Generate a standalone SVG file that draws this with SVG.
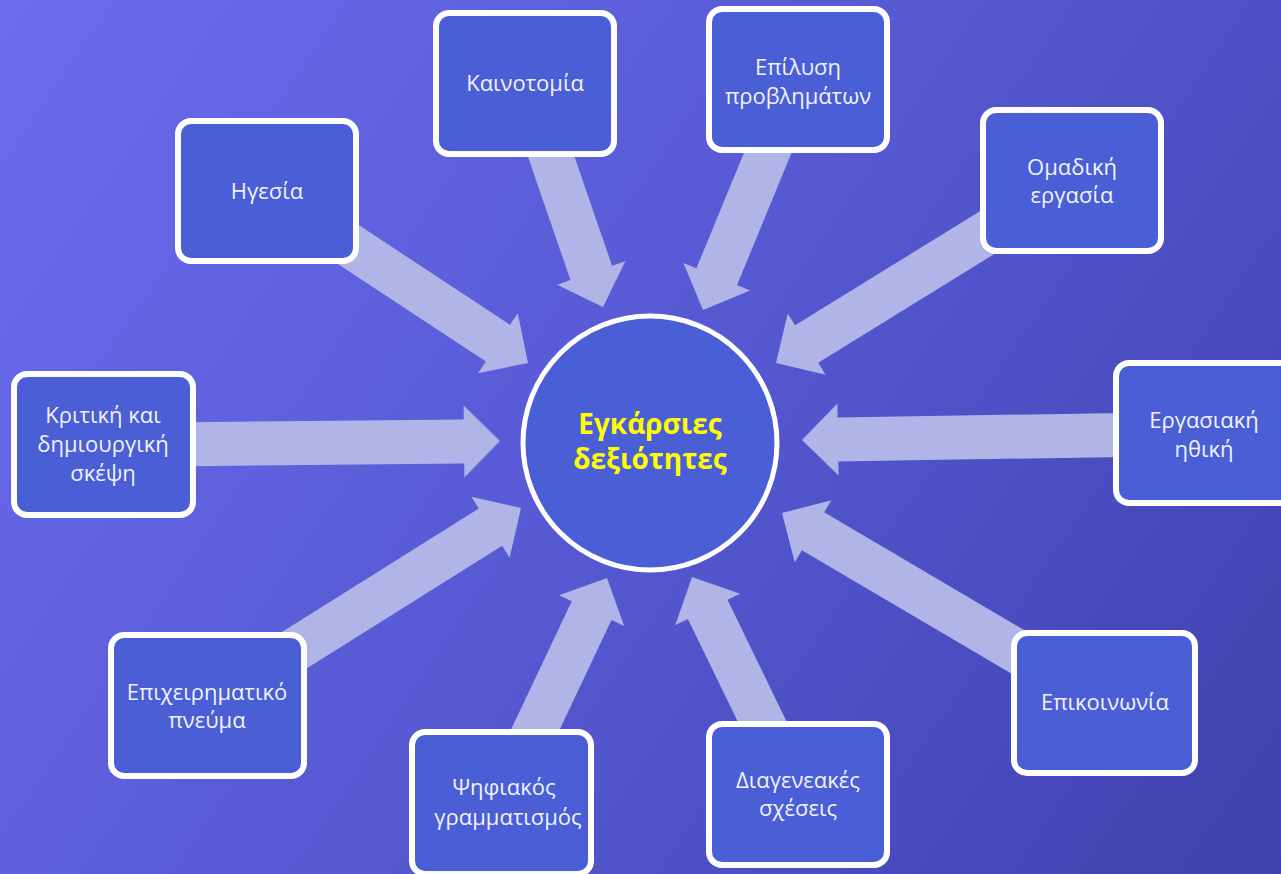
<svg xmlns="http://www.w3.org/2000/svg" width="1281" height="874" viewBox="0 0 1281 874">
  <defs>
    <linearGradient id="bg" x1="0" y1="0" x2="1281" y2="874" gradientUnits="userSpaceOnUse">
      <stop offset="0" stop-color="#6b6cee"/>
      <stop offset="0.5" stop-color="#5659d2"/>
      <stop offset="1" stop-color="#4040ae"/>
    </linearGradient>
    <style>
      .box { fill: #4a5ed6; stroke: #ffffff; stroke-width: 6; }
      .hub { fill: #4a5ed6; stroke: #ffffff; stroke-width: 5; }
      .lbl { font-family: "Open Sans", "Noto Sans", "DejaVu Sans", sans-serif; font-size: 22px; fill: #f2f2ff; text-anchor: middle; }
      .hubtxt { font-family: "Open Sans", "Noto Sans", "DejaVu Sans", sans-serif; font-size: 28px; font-weight: bold; fill: #ffff00; text-anchor: middle; }
      .arrow { fill: #b0b4e6; }
    </style>
  </defs>

  <rect x="0" y="0" width="1281" height="874" fill="url(#bg)"/>

  <!-- Block arrows: tip at origin, pointing along +x, then placed and rotated -->
  <g id="connectors">
    <path class="arrow" transform="translate(528,363) rotate(33.4)" d="M0,0 L-36,-36 L-36,-22 L-313,-22 L-313,22 L-36,22 L-36,36 Z"/>
    <path class="arrow" transform="translate(603,307) rotate(71)" d="M0,0 L-36,-36 L-36,-22 L-237,-22 L-237,22 L-36,22 L-36,36 Z"/>
    <path class="arrow" transform="translate(703,310) rotate(112.4)" d="M0,0 L-36,-36 L-36,-22 L-249,-22 L-249,22 L-36,22 L-36,36 Z"/>
    <path class="arrow" transform="translate(776,363) rotate(148.3)" d="M0,0 L-36,-36 L-36,-22 L-348,-22 L-348,22 L-36,22 L-36,36 Z"/>
    <path class="arrow" transform="translate(802,440) rotate(179.1)" d="M0,0 L-36,-36 L-36,-22 L-398,-22 L-398,22 L-36,22 L-36,36 Z"/>
    <path class="arrow" transform="translate(782,513) rotate(-149.5)" d="M0,0 L-36,-36 L-36,-22 L-375,-22 L-375,22 L-36,22 L-36,36 Z"/>
    <path class="arrow" transform="translate(692,577) rotate(-115.9)" d="M0,0 L-36,-36 L-36,-22 L-242,-22 L-242,22 L-36,22 L-36,36 Z"/>
    <path class="arrow" transform="translate(607,578) rotate(-64.7)" d="M0,0 L-36,-36 L-36,-22 L-248,-22 L-248,22 L-36,22 L-36,36 Z"/>
    <path class="arrow" transform="translate(521,508) rotate(-32.1)" d="M0,0 L-36,-36 L-36,-22 L-371,-22 L-371,22 L-36,22 L-36,36 Z"/>
    <path class="arrow" transform="translate(500,441) rotate(-0.6)" d="M0,0 L-36,-36 L-36,-22 L-396,-22 L-396,22 L-36,22 L-36,36 Z"/>
  </g>

  <g id="hub">
    <circle class="hub" cx="650" cy="443" r="127"/>
    <text class="hubtxt" x="650" y="434">Εγκάρσιες</text>
    <text class="hubtxt" x="650" y="469">δεξιότητες</text>
  </g>

  <g id="node-leadership">
    <rect class="box" x="178" y="121" width="178" height="140" rx="13"/>
    <text class="lbl" x="267" y="199">Ηγεσία</text>
  </g>

  <g id="node-innovation">
    <rect class="box" x="436" y="13" width="178" height="141" rx="13"/>
    <text class="lbl" x="525" y="91">Καινοτομία</text>
  </g>

  <g id="node-problem-solving">
    <rect class="box" x="709" y="9" width="178" height="141" rx="13"/>
    <text class="lbl" x="798" y="75">Επίλυση</text>
    <text class="lbl" x="798" y="104">προβλημάτων</text>
  </g>

  <g id="node-teamwork">
    <rect class="box" x="983" y="110" width="178" height="141" rx="13"/>
    <text class="lbl" x="1072" y="175">Ομαδική</text>
    <text class="lbl" x="1072" y="203">εργασία</text>
  </g>

  <g id="node-work-ethic">
    <rect class="box" x="1116" y="363" width="178" height="140" rx="13"/>
    <text class="lbl" x="1204" y="428">Εργασιακή</text>
    <text class="lbl" x="1204" y="457">ηθική</text>
  </g>

  <g id="node-communication">
    <rect class="box" x="1014" y="633" width="181" height="140" rx="13"/>
    <text class="lbl" x="1105" y="710">Επικοινωνία</text>
  </g>

  <g id="node-intergenerational">
    <rect class="box" x="709" y="724" width="178" height="141" rx="13"/>
    <text class="lbl" x="798" y="788">Διαγενεακές</text>
    <text class="lbl" x="798" y="816">σχέσεις</text>
  </g>

  <g id="node-digital-literacy">
    <rect class="box" x="412" y="732" width="179" height="142" rx="13"/>
    <text class="lbl" x="504" y="795">Ψηφιακός</text>
    <text class="lbl" x="508" y="825">γραμματισμός</text>
  </g>

  <g id="node-entrepreneurship">
    <rect class="box" x="111" y="635" width="193" height="141" rx="13"/>
    <text class="lbl" x="207" y="700">Επιχειρηματικό</text>
    <text class="lbl" x="207" y="728">πνεύμα</text>
  </g>

  <g id="node-critical-thinking">
    <rect class="box" x="14" y="374" width="179" height="141" rx="13"/>
    <text class="lbl" x="103" y="423">Κριτική και</text>
    <text class="lbl" x="103" y="452">δημιουργική</text>
    <text class="lbl" x="103" y="481">σκέψη</text>
  </g>
</svg>
